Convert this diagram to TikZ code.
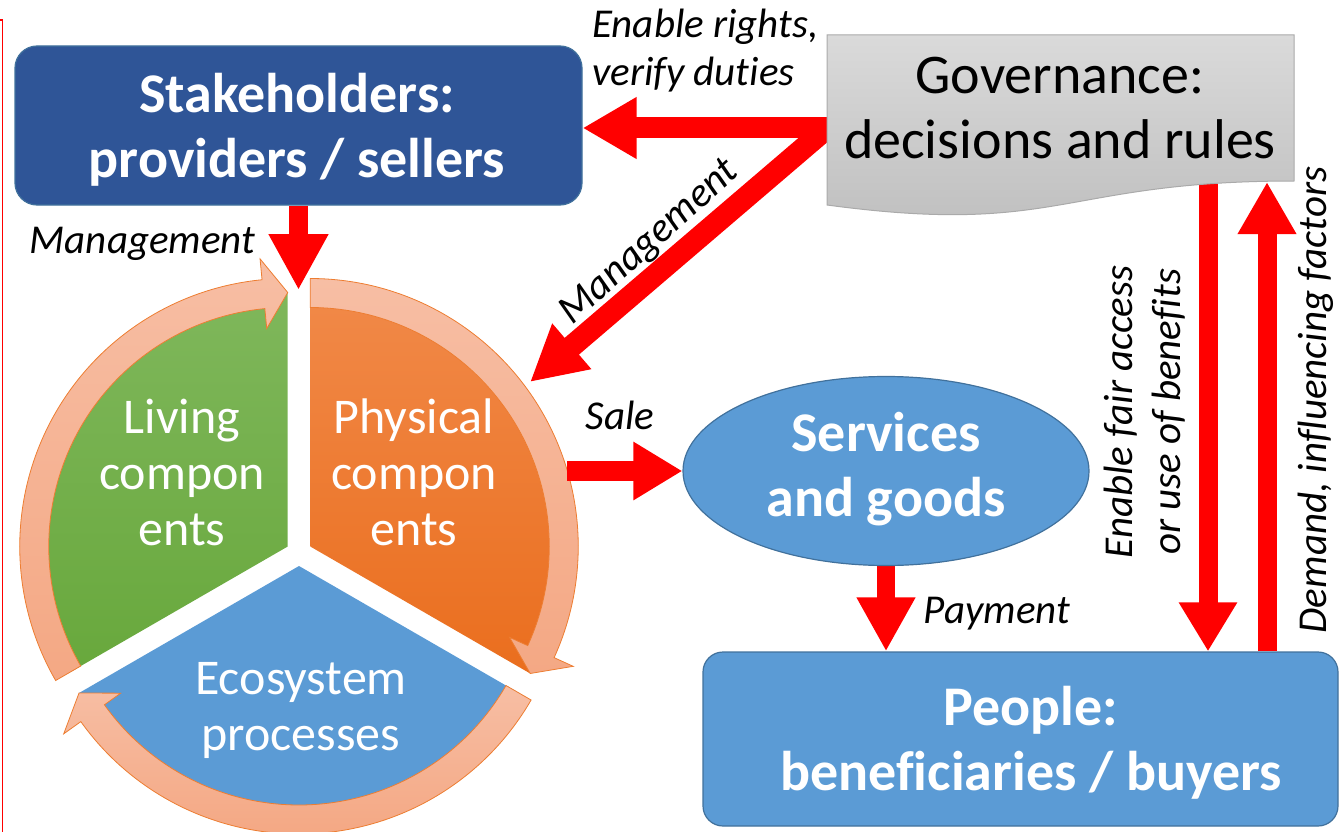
\documentclass[tikz,border=0pt]{standalone}
\usepackage{fontspec}
\setmainfont{Carlito}[Ligatures=NoCommon]
\usetikzlibrary{arrows.meta,shapes.geometric,calc}
\pgfdeclarelayer{back}
\pgfsetlayers{back,main}

\definecolor{redarr}{RGB}{255,0,0}
\definecolor{stakeblue}{RGB}{47,85,151}
\definecolor{boxblue}{RGB}{91,155,213}
\definecolor{edgeblue}{RGB}{65,113,156}
\definecolor{ringtop}{RGB}{247,190,164}
\definecolor{ringbot}{RGB}{244,168,132}
\definecolor{ringedge}{RGB}{237,125,49}
\definecolor{greentop}{RGB}{127,183,91}
\definecolor{greenbot}{RGB}{104,168,60}
\definecolor{orangetop}{RGB}{241,137,72}
\definecolor{orangebot}{RGB}{234,110,30}
\definecolor{govtop}{RGB}{218,218,218}
\definecolor{govbot}{RGB}{190,190,190}
\definecolor{govedge}{RGB}{170,170,170}

\begin{document}
\begin{tikzpicture}[x=1pt,y=-1pt,
  redarrow/.style={draw=redarr, line width=20pt, -{Triangle[length=52pt,width=56pt]}},
  bigbold/.style={font=\fontsize{56}{65}\selectfont\bfseries, text=white, align=center, inner sep=0pt},
  govfont/.style={font=\fontsize{56}{65}\selectfont, text=black, align=center, inner sep=0pt},
  sectortext/.style={font=\fontsize{50}{56}\selectfont, text=white, align=center, inner sep=0pt},
  lbl/.style={font=\fontsize{41}{48}\selectfont\itshape, text=black, align=center, inner sep=0pt},
  ringarrow/.style={draw=ringedge, line width=0.8pt, top color=ringtop, bottom color=ringbot},
  bluebox/.style={draw=edgeblue, line width=1.2pt, fill=boxblue, inner sep=0pt}]
\useasboundingbox (0,0) rectangle (1341,832);

% thin red frame edge on the left
\draw[redarr, line width=1.5pt] (0,20) -- (2.5,20) -- (2.5,832);

% boxes
\node[bluebox, fill=stakeblue, rounded corners=22pt, minimum width=567pt, minimum height=159pt] (stake) at (298.5,125.5) {};
\node[bigbold] (staketext) at (297,131.5) {\strut Stakeholders:\\\strut providers / sellers};

\path[draw=govedge, line width=1pt, top color=govtop, bottom color=govbot]
  (827,35) -- (1294,35) -- (1294,181) .. controls (1060.5,181) and (1060.5,236.5) .. (827,205) -- cycle;
\node[govfont] (gov) at (1060,112.5) {\strut Governance:\\\strut decisions and rules};

\node[bluebox, bigbold, ellipse, minimum width=406pt, minimum height=189pt] (serv) at (886,471) {\strut Services\\\strut and goods};

\node[bluebox, rounded corners=20pt, minimum width=635pt, minimum height=174pt] (people) at (1020.5,739) {};
\node[bigbold] (peopletext) at (1031,745) {\strut People:\\\strut beneficiaries / buyers};

% segmented cycle
\coordinate (cc) at (299,553);
\coordinate (cg) at ($(cc)+(150:13pt)$);
\coordinate (co) at ($(cc)+(30:13pt)$);
\coordinate (cb) at ($(cc)+(270:13pt)$);

\begin{pgfonlayer}{back}
  \path[top color=greentop, bottom color=greenbot] (cg) -- ($(cg)+(90:254pt)$) arc[start angle=90, end angle=210, radius=254pt] -- cycle;
  \path[top color=orangetop, bottom color=orangebot] (co) -- ($(co)+(-30:254pt)$) arc[start angle=-30, end angle=90, radius=254pt] -- cycle;
  \path[fill=boxblue] (cb) -- ($(cb)+(210:254pt)$) arc[start angle=210, end angle=330, radius=254pt] -- cycle;
  \foreach \c/\a/\h/\b in {cg/210/95.5/90, co/90/-24.5/-30, cb/330/215.5/210}{
    \path[ringarrow] ($(\c)+(\a:268pt)$) arc[start angle=\a, end angle=\h, radius=268pt]
      -- ($(\c)+(\h:289pt)$) -- ($(\c)+(\b:254pt)$) -- ($(\c)+(\h:219pt)$)
      -- ($(\c)+(\h:239pt)$) arc[start angle=\h, end angle=\a, radius=239pt] -- cycle;
  }

  % red flow arrows
  \coordinate (govW) at (827,128);
  \coordinate (ringNE) at (530,382);
  \coordinate (gapTop) at (298.5,290);
  \coordinate (ringE) at (567,471);
  \coordinate (govS1) at (1208,184);
  \coordinate (govS2) at (1267,182);
  \draw[redarrow, line width=21pt, -{Triangle[length=54pt,width=58pt]}] (govW) -- (stake.east |- govW);
  \draw[redarrow, line width=22pt, -{Triangle[length=55pt,width=56pt]}] (govW) -- (ringNE);
  \draw[redarrow, line width=19pt, -{Triangle[length=56pt,width=56pt]}] (stake.south) -- (gapTop);
  \draw[redarrow, -{Triangle[length=49pt,width=55pt]}] (ringE) -- (serv.west);
  \draw[redarrow, line width=18pt, -{Triangle[length=54pt,width=55pt]}] (serv.south) -- (serv.south |- people.north);
  \draw[redarrow, line width=19pt, -{Triangle[length=49pt,width=55pt]}] (govS1) -- (govS1 |- people.north);
  \draw[redarrow, line width=19pt, -{Triangle[length=52pt,width=55pt]}] (govS2 |- people.north) -- (govS2);
\end{pgfonlayer}

% segment texts
\node[sectortext] (living) at (182,478) {\strut Living\\\strut compon\\\strut ents};
\node[sectortext] (physical) at (414,478) {\strut Physical\\\strut compon\\\strut ents};
\node[sectortext] (eco) at (301,711) {\strut Ecosystem\\\strut processes};

% arrow labels
\node[lbl, align=left, anchor=west] (rights) at (592,52.4) {\strut Enable rights,\\\strut verify duties};
\node[lbl] (mgmt1) at (142.5,244) {\strut Management};
\node[lbl, rotate=42] (mgmt2) at (650,243) {\strut Management};
\node[lbl] (sale) at (620,420) {\strut Sale};
\node[lbl] (pay) at (997,613.6) {\strut Payment};
\node[lbl, rotate=90] (access) at (1147,412) {\strut Enable fair access\\\strut or use of benefits};
\node[lbl, rotate=90] (demand) at (1317,400) {\strut Demand, influencing factors};
\end{tikzpicture}
\end{document}
